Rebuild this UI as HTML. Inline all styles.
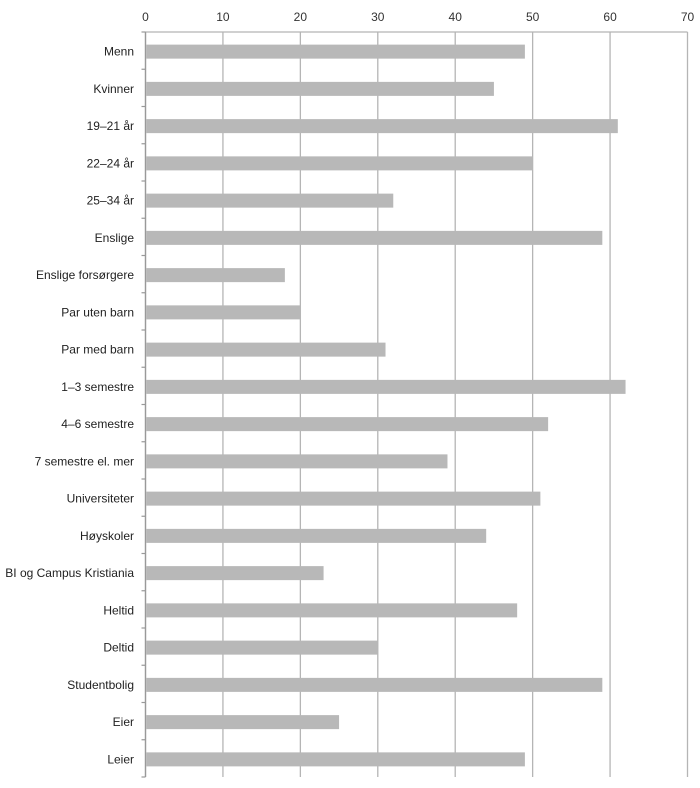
<!DOCTYPE html>
<html><head><meta charset="utf-8"><style>
body{margin:0;background:#fff;}
svg{display:block;font-family:"Liberation Sans",Arial,sans-serif;}
</style></head><body>
<svg id="chart" width="700" height="788" viewBox="0 0 700 788"></svg>
<script>
const categories=["Menn","Kvinner","19–21 år","22–24 år","25–34 år","Enslige","Enslige forsørgere","Par uten barn","Par med barn","1–3 semestre","4–6 semestre","7 semestre el. mer","Universiteter","Høyskoler","BI og Campus Kristiania","Heltid","Deltid","Studentbolig","Eier","Leier"];
const values=[49,45,61,50,32,59,18,20,31,62,52,39,51,44,23,48,30,59,25,49];
const ticks=[0,10,20,30,40,50,60,70];
const svg=document.getElementById('chart');
const NS='http://www.w3.org/2000/svg';
const x0=145.5,x1=687.5,y0=32,y1=777,max=70;
const xs=v=>x0+(x1-x0)*v/max;
const band=(y1-y0)/categories.length;
const yc=i=>y0+band*(i+0.5)+1;
function mk(t,a){const e=document.createElementNS(NS,t);for(const k in a)e.setAttribute(k,a[k]);svg.appendChild(e);return e;}
ticks.forEach(t=>{
 const l=mk('line',{x1:xs(t),x2:xs(t),y1:y0,y2:y1,stroke:'#b5b5b5','stroke-width':1.3});
 
 
 const tx=mk('text',{x:xs(t),y:21,'text-anchor':'middle','font-size':12,fill:'#333'});
 tx.textContent=t;
 
 
});
const ax=mk('line',{x1:x0,x2:x1,y1:y0,y2:y0,stroke:'#b5b5b5','stroke-width':1.3});


const ay=mk('line',{x1:x0,x2:x0,y1:y0,y2:y1,stroke:'#999','stroke-width':1.3});


for(let i=0;i<=categories.length;i++){
 const t=mk('line',{x1:x0-4,x2:x0,y1:y0+band*i,y2:y0+band*i,stroke:'#999','stroke-width':1.2});
 
 
}
categories.forEach((c,i)=>{
 const r=mk('rect',{x:x0+0.7,y:yc(i)-7,width:xs(values[i])-x0-0.7,height:14,fill:'#b8b8b8'});
 
 
 const t=mk('text',{x:134,y:yc(i)+4,'text-anchor':'end','font-size':12,fill:'#222'});
 t.textContent=c;
 
 
});
</script>
</body></html>
